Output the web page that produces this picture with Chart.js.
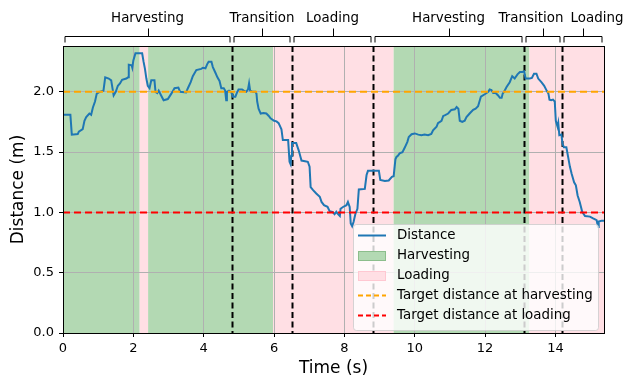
<!DOCTYPE html>
<html><head><meta charset="utf-8">
<script src="https://cdn.jsdelivr.net/npm/chart.js@4.4.1/dist/chart.umd.min.js"></script>
<style>html,body{margin:0;padding:0;background:#fff}#wrap{width:626px;height:381px;position:relative}</style>
</head><body><div id="wrap"><canvas id="c" width="626" height="381"></canvas></div>
<script>
const times = [0.00,0.21,0.25,0.42,0.45,0.56,0.61,0.66,0.75,0.80,0.85,0.91,0.96,1.04,1.15,1.20,1.30,1.37,1.44,1.50,1.56,1.62,1.68,1.80,1.85,1.87,1.95,1.97,2.00,2.06,2.25,2.29,2.33,2.37,2.41,2.46,2.51,2.60,2.63,2.68,2.72,2.79,2.86,2.98,3.08,3.17,3.28,3.33,3.50,3.55,3.63,3.69,3.79,3.93,3.98,4.05,4.10,4.14,4.22,4.26,4.33,4.39,4.45,4.50,4.57,4.61,4.64,4.66,4.72,4.78,4.83,4.90,4.94,4.99,5.09,5.14,5.21,5.26,5.29,5.32,5.40,5.47,5.50,5.52,5.56,5.62,5.70,5.78,5.85,5.90,6.00,6.07,6.13,6.21,6.25,6.40,6.42,6.44,6.47,6.49,6.51,6.63,6.70,6.78,6.96,7.01,7.04,7.11,7.20,7.30,7.35,7.42,7.52,7.58,7.66,7.72,7.77,7.82,7.87,7.89,7.96,8.06,8.10,8.15,8.18,8.22,8.26,8.31,8.37,8.41,8.58,8.63,8.67,8.98,9.02,9.15,9.26,9.35,9.40,9.45,9.48,9.52,9.57,9.65,9.72,9.79,9.83,9.91,10.00,10.10,10.19,10.28,10.38,10.47,10.52,10.62,10.66,10.76,10.81,10.85,10.95,11.04,11.14,11.19,11.24,11.28,11.35,11.42,11.47,11.56,11.66,11.73,11.80,11.85,11.88,11.99,12.09,12.13,12.18,12.23,12.30,12.37,12.42,12.47,12.50,12.54,12.61,12.70,12.77,12.84,12.92,12.99,13.06,13.11,13.15,13.27,13.33,13.39,13.46,13.51,13.60,13.68,13.75,13.80,13.83,13.88,13.93,13.98,14.01,14.06,14.08,14.11,14.17,14.20,14.24,14.31,14.36,14.41,14.46,14.53,14.58,14.63,14.69,14.76,14.84,14.98,15.07,15.17,15.21,15.23,15.31,15.38];
const distances = [1.81,1.81,1.645,1.65,1.67,1.69,1.76,1.79,1.82,1.81,1.87,1.92,1.985,2.00,2.01,2.12,2.11,2.095,1.97,2.00,2.05,2.07,2.10,2.11,2.12,2.225,2.22,2.20,2.26,2.32,2.32,2.25,2.19,2.11,2.05,2.03,2.095,2.095,2.00,1.99,2.01,1.97,1.93,1.94,1.985,2.03,2.035,2.00,1.995,2.03,2.08,2.13,2.18,2.19,2.20,2.195,2.23,2.25,2.25,2.205,2.16,2.12,2.09,2.03,2.03,2.01,1.93,2.00,2.01,2.00,1.96,1.96,1.99,2.02,2.02,2.01,2.00,2.02,2.07,2.01,2.00,2.00,1.985,1.92,1.86,1.82,1.825,1.82,1.80,1.78,1.76,1.755,1.74,1.69,1.60,1.60,1.60,1.42,1.40,1.47,1.575,1.575,1.515,1.43,1.42,1.38,1.21,1.185,1.157,1.13,1.087,1.06,1.046,1.01,1.005,0.985,1.005,0.985,0.97,1.03,1.045,1.06,1.087,1.045,0.908,0.886,0.92,0.985,1.03,1.19,1.195,1.31,1.345,1.345,1.27,1.26,1.265,1.295,1.30,1.44,1.46,1.47,1.49,1.50,1.54,1.585,1.626,1.648,1.655,1.645,1.64,1.645,1.64,1.65,1.68,1.71,1.74,1.76,1.80,1.805,1.82,1.85,1.855,1.874,1.86,1.76,1.75,1.76,1.79,1.82,1.85,1.86,1.88,1.93,1.96,1.98,2.00,2.02,2.015,1.99,1.99,1.97,1.95,1.95,1.985,2.00,2.04,2.08,2.13,2.11,2.145,2.165,2.165,2.17,2.11,2.11,2.115,2.15,2.15,2.11,2.08,2.05,2.01,1.985,1.935,1.93,1.935,1.92,1.76,1.71,1.74,1.64,1.645,1.57,1.54,1.54,1.46,1.38,1.32,1.25,1.225,1.14,1.087,1.005,0.97,0.965,0.95,0.936,0.88,0.925,0.93,0.93];

const phaseLabels = ["Harvesting","Transition","Loading","Harvesting","Transition","Loading"];
const phaseStarts = [0, 4.8, 6.5, 8.8, 13.1, 14.2];
const phaseEnds   = [4.8, 6.5, 8.8, 13.1, 14.2, 15.38];

const shadeTypes  = ["Harvesting","Loading","Harvesting","Loading","Harvesting","Loading"];
const shadeStarts = [0, 2.18, 2.42, 5.97, 9.40, 13.26];
const shadeEnds   = [2.18, 2.42, 5.97, 9.40, 13.26, 15.38];

const targetHarvesting = 2.0;
const targetLoading = 1.0;
const xMax = 15.38, yMax = 2.38;
const xTicks = [0,2,4,6,8,10,12,14];
const yTicks = [0.0,0.5,1.0,1.5,2.0];

// horizontal nudges (px) of the phase labels to keep them from overlapping
const labelShift = [0,0,0,0,-12,14];

const GREEN = 'rgb(179,217,179)';
const PINK = 'rgb(255,223,228)';
const FONT = '"DejaVu Sans", sans-serif';

const bgPlugin = {
  id:'bg',
  beforeDraw(chart){
    const {ctx, chartArea:a, scales:{x}} = chart;
    ctx.save();
    for (let i=0;i<shadeStarts.length;i++){
      const x0 = x.getPixelForValue(shadeStarts[i]);
      const x1 = x.getPixelForValue(shadeEnds[i]);
      ctx.fillStyle = shadeTypes[i]==="Harvesting" ? GREEN : PINK;
      ctx.fillRect(x0, a.top, x1-x0, a.bottom-a.top);
    }
    ctx.restore();
  },
  beforeDatasetsDraw(chart){
    const {ctx, chartArea:a, scales:{x}} = chart;
    ctx.save();
    ctx.strokeStyle='#000'; ctx.lineWidth=2; ctx.setLineDash([6,3.5]);
    for (let i=1;i<phaseStarts.length;i++){
      const px = Math.round(x.getPixelForValue(phaseStarts[i]))+0.5;
      ctx.beginPath(); ctx.moveTo(px,a.top); ctx.lineTo(px,a.bottom); ctx.stroke();
    }
    ctx.restore();
  },
  afterDatasetsDraw(chart){
    const {ctx, chartArea:a, scales:{x}} = chart;
    ctx.save();
    ctx.strokeStyle='#000'; ctx.lineWidth=1;
    ctx.strokeRect(Math.round(a.left)+0.5, Math.round(a.top)+0.5, Math.round(a.right-a.left), Math.round(a.bottom-a.top));
    // brackets
    const by = 36.5;
    ctx.lineWidth = 1;
    ctx.font = '13.4px '+FONT; ctx.fillStyle='#000'; ctx.textAlign='center'; ctx.textBaseline='middle';
    for (let i=0;i<phaseLabels.length;i++){
      const x0 = Math.round(x.getPixelForValue(phaseStarts[i]))+0.5;
      const x1 = Math.round(x.getPixelForValue(phaseEnds[i]))-0.5;
      const xm = Math.round((x0+x1)/2)+0.5;
      ctx.beginPath();
      ctx.moveTo(x0+1.5, by+6); ctx.lineTo(x0+1.5, by); ctx.lineTo(x1-1.5, by); ctx.lineTo(x1-1.5, by+6);
      ctx.moveTo(xm, by); ctx.lineTo(xm, by-8);
      ctx.stroke();
      ctx.fillText(phaseLabels[i], (x0+x1)/2 + labelShift[i], 18.5);
    }
    // legend
    const lx=353, ly=224, lw=245, lh=106;
    ctx.fillStyle='rgba(255,255,255,0.8)';
    ctx.strokeStyle='rgba(204,204,204,0.8)';
    ctx.beginPath();
    if (ctx.roundRect) ctx.roundRect(lx+0.5,ly+0.5,lw,lh,3); else ctx.rect(lx+0.5,ly+0.5,lw,lh);
    ctx.fill(); ctx.stroke();
    const rows = [
      {t:'Distance', type:'line', c:'#1f77b4', dash:[]},
      {t:'Harvesting', type:'rect', c:GREEN, e:'rgb(140,190,140)'},
      {t:'Loading', type:'rect', c:PINK, e:'rgb(255,200,210)'},
      {t:'Target distance at harvesting', type:'line', c:'#ffa500', dash:[5,3]},
      {t:'Target distance at loading', type:'line', c:'#ff0000', dash:[5,3]}
    ];
    ctx.textAlign='left'; ctx.textBaseline='middle'; ctx.font='13.4px '+FONT;
    rows.forEach((r,i)=>{
      const cy = 235.5 + i*20;
      if (r.type==='line'){
        ctx.strokeStyle=r.c; ctx.lineWidth=2; ctx.setLineDash(r.dash);
        ctx.beginPath(); ctx.moveTo(358,cy); ctx.lineTo(386,cy); ctx.stroke(); ctx.setLineDash([]);
      } else {
        ctx.fillStyle=r.c; ctx.fillRect(358,cy-4.5,28,9.5);
        ctx.strokeStyle=r.e; ctx.lineWidth=1; ctx.strokeRect(358.5,cy-4,27,9);
      }
      ctx.fillStyle='#000'; ctx.fillText(r.t, 397, cy+0.5);
    });
    ctx.restore();
  }
};

new Chart(document.getElementById('c'), {
  type:'line',
  data:{
    datasets:[
      {label:'Distance', data: times.map((t,i)=>({x:t,y:distances[i]})), borderColor:'#1f77b4', borderWidth:2, pointRadius:0, tension:0, fill:false, order:2},
      {label:'Target distance at harvesting', data:[{x:0,y:targetHarvesting},{x:xMax,y:targetHarvesting}], borderColor:'#ffa500', borderWidth:2, borderDash:[7,4], pointRadius:0, order:1},
      {label:'Target distance at loading', data:[{x:0,y:targetLoading},{x:xMax,y:targetLoading}], borderColor:'#ff0000', borderWidth:2, borderDash:[7,4], pointRadius:0, order:1}
    ]
  },
  options:{
    responsive:false, animation:false, devicePixelRatio:1,
    layout:{padding:{left:0,right:22,top:46,bottom:0}},
    plugins:{legend:{display:false}, tooltip:{enabled:false}},
    scales:{
      x:{type:'linear', min:0, max:xMax,
        afterFit(s){ s.height = 48; },
        afterBuildTicks(s){ s.ticks = xTicks.map(v=>({value:v})); },
        ticks:{font:{family:FONT,size:13}, color:'#000', padding:4, maxRotation:0, callback:v=>String(v)},
        grid:{color:'#b0b0b0', lineWidth:1, tickColor:'#000', tickLength:4},
        border:{color:'#000', width:1},
        title:{display:true, text:'Time (s)', font:{family:FONT,size:17}, color:'#000', padding:{top:0,bottom:2}}
      },
      y:{min:0, max:yMax,
        afterFit(s){ s.width = 63; },
        afterBuildTicks(s){ s.ticks = yTicks.map(v=>({value:v})); },
        ticks:{font:{family:FONT,size:13}, color:'#000', padding:5, callback:v=>Number(v).toFixed(1)},
        grid:{color:'#b0b0b0', lineWidth:1, tickColor:'#000', tickLength:4},
        border:{color:'#000', width:1},
        title:{display:true, text:'Distance (m)', font:{family:FONT,size:17}, color:'#000', padding:{top:8,bottom:0}}
      }
    }
  },
  plugins:[bgPlugin]
});
</script></body></html>
